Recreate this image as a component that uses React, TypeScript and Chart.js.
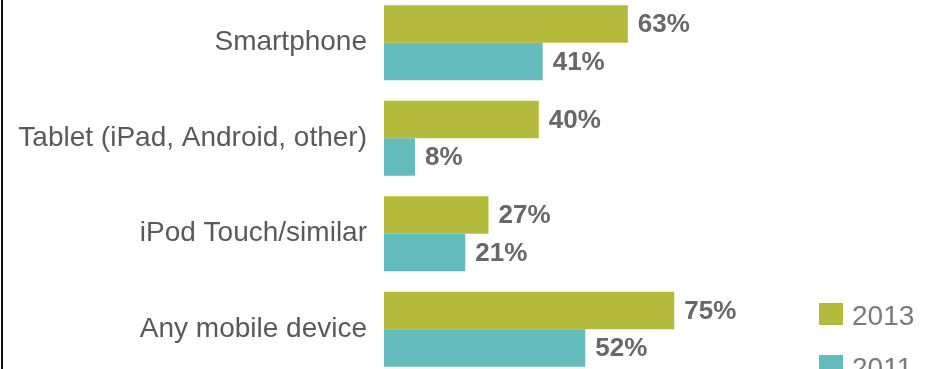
import React, { useEffect, useRef } from "react";
import { Chart, registerables } from "chart.js";

Chart.register(...registerables);

const categories = ["Smartphone", "Tablet (iPad, Android, other)", "iPod Touch/similar", "Any mobile device"];
const series2013 = [63, 40, 27, 75];
const series2011 = [41, 8, 21, 52];
const seriesLabels = ["2013", "2011"];
const seriesColors = ["#b4bb3c", "#64bbbb"];

const FONT = "'Liberation Sans', Arial, Helvetica, sans-serif";
const OFFSET_Y = 5; // canvas is shifted up by this many px

const valueLabels = {
  id: "valueLabels",
  afterDatasetsDraw(chart: any) {
    const ctx = chart.ctx;
    ctx.save();
    ctx.font = `bold 26px ${FONT}`;
    ctx.fillStyle = "#686868";
    ctx.textAlign = "left";
    ctx.textBaseline = "middle";
    chart.data.datasets.forEach((ds: any, di: number) => {
      const meta = chart.getDatasetMeta(di);
      meta.data.forEach((bar: any, i: number) => {
        ctx.fillText(`${ds.data[i]}%`, bar.x + 10, bar.y + 1);
      });
    });
    ctx.restore();
  },
};

const customLegend = {
  id: "customLegend",
  afterDraw(chart: any) {
    const ctx = chart.ctx;
    ctx.save();
    ctx.font = `28px ${FONT}`;
    ctx.textAlign = "left";
    ctx.textBaseline = "alphabetic";
    chart.data.datasets.forEach((ds: any, di: number) => {
      const top = 303 + di * 52 + OFFSET_Y;
      ctx.fillStyle = ds.backgroundColor;
      ctx.fillRect(819, top, 24, 22);
      ctx.fillStyle = "#7a7a7a";
      ctx.fillText(ds.label, 852, top + 22);
    });
    ctx.restore();
  },
};

export default function App() {
  const ref = useRef<HTMLCanvasElement>(null);
  useEffect(() => {
    if (!ref.current) return;
    const chart = new Chart(ref.current, {
      type: "bar",
      data: {
        labels: categories,
        datasets: [
          { label: seriesLabels[0], data: series2013, backgroundColor: seriesColors[0], borderWidth: 0 },
          { label: seriesLabels[1], data: series2011, backgroundColor: seriesColors[1], borderWidth: 0 },
        ],
      },
      options: {
        indexAxis: "y",
        animation: false,
        responsive: false,
        devicePixelRatio: 1,
        layout: { padding: { left: 0, right: 165, top: 0, bottom: 0 } },
        datasets: { bar: { categoryPercentage: 0.785, barPercentage: 1 } },
        plugins: { legend: { display: false }, tooltip: { enabled: false } },
        scales: {
          x: { display: false, min: 0, max: 100 },
          y: {
            grid: { display: false, drawTicks: false },
            border: { display: false },
            ticks: { font: { family: FONT, size: 28 }, color: "#5a5a5a", padding: 17 },
            afterFit: (scale: any) => {
              scale.width = 384;
              scale.paddingTop = 0;
              scale.paddingBottom = 0;
            },
          },
        },
      },
      plugins: [valueLabels, customLegend],
    });
    return () => chart.destroy();
  }, []);
  return (
    <div style={{ position: "fixed", left: 0, top: 0, width: 936, height: 369, overflow: "hidden", background: "#fff" }}>
      <canvas ref={ref} width={936} height={382} style={{ position: "absolute", left: 0, top: -OFFSET_Y, width: 936, height: 382 }} />
      <div style={{ position: "absolute", left: 1, top: 0, width: 2, height: 369, background: "#111" }} />
    </div>
  );
}
